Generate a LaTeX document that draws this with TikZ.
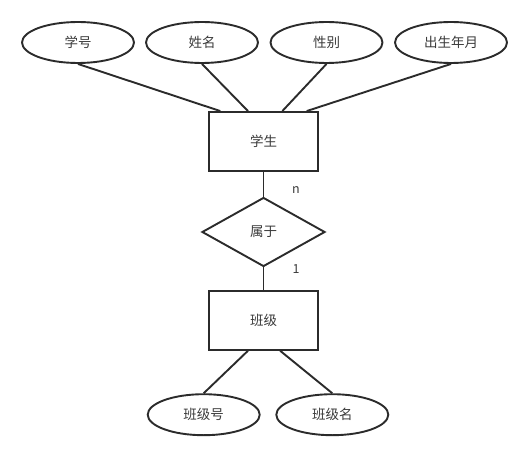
\documentclass[tikz,border=0pt]{standalone}
\usepackage{fontspec}
\setmainfont{Noto Sans CJK SC}
\usetikzlibrary{shapes.geometric,calc}
\definecolor{ln}{HTML}{2B2B2B}
\definecolor{tx}{HTML}{3A3A3A}
\tikzset{
  attr/.style={ellipse,draw=ln,line width=1.9pt,minimum width=112pt,minimum height=41pt,inner sep=0pt,text=tx,font=\fontsize{13.5pt}{15pt}\selectfont},
  entity/.style={rectangle,draw=ln,line width=1.9pt,minimum width=109pt,minimum height=59pt,inner sep=0pt,text=tx,font=\fontsize{13.5pt}{15pt}\selectfont},
  rel/.style={diamond,draw=ln,line width=1.9pt,minimum width=123pt,minimum height=69pt,inner sep=0pt,aspect=1.78,text=tx,font=\fontsize{13.5pt}{15pt}\selectfont},
  conn/.style={draw=ln,line width=1.9pt},
  card/.style={text=tx,font=\fontsize{12.5pt}{14pt}\selectfont,inner sep=0pt}
}
\begin{document}
\begin{tikzpicture}[x=1pt,y=-1pt]
\useasboundingbox (0,0) rectangle (526,454);
\node[attr] (xh) at (78,42.5) {学号};
\node[attr] (xm) at (202,42.5) {姓名};
\node[attr] (xb) at (326.5,42.5) {性别};
\node[attr] (cs) at (451,42.5) {出生年月};
\node[entity] (st) at (263.5,141.5) {学生};
\node[rel] (sy) at (263.5,232) {属于};
\node[entity] (bj) at (263.5,320.3) {班级};
\node[attr] (bh) at (203.7,414.7) {班级号};
\node[attr] (bm) at (332.3,414.7) {班级名};
\coordinate (t1) at ($(st.north west)!0.11!(st.north east)$);
\coordinate (t2) at ($(st.north west)!0.36!(st.north east)$);
\coordinate (t3) at ($(st.north west)!0.67!(st.north east)$);
\coordinate (t4) at ($(st.north west)!0.89!(st.north east)$);
\coordinate (b1) at ($(bj.south west)!0.36!(bj.south east)$);
\coordinate (b2) at ($(bj.south west)!0.65!(bj.south east)$);
\draw[conn] (xh.south) -- (t1);
\draw[conn] (xm.south) -- (t2);
\draw[conn] (xb.south) -- (t3);
\draw[conn] (cs.south) -- (t4);
\draw[conn] (st.south) -- (sy.north);
\draw[conn] (sy.south) -- (bj.north);
\draw[conn] (b1) -- (bh.north);
\draw[conn] (b2) -- (bm.north);
\node[card] (n) at (296,190) {n};
\node[card] (one) at (296,269) {1};
\end{tikzpicture}
\end{document}
